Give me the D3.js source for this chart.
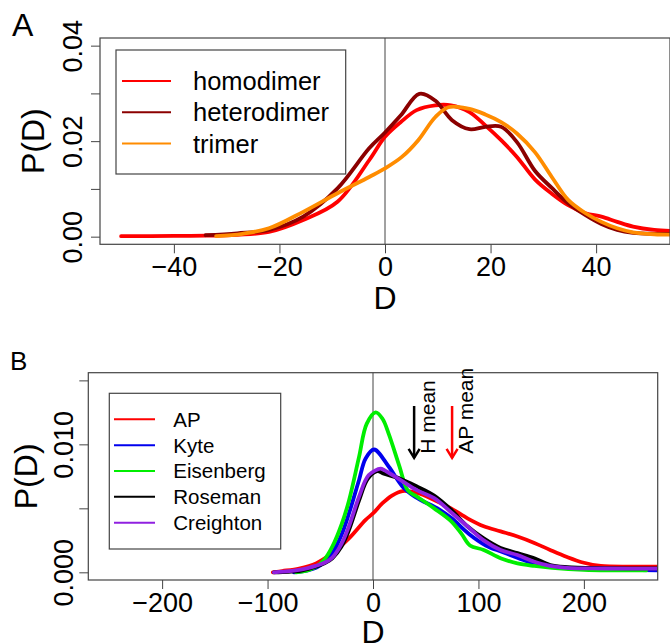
<!DOCTYPE html>
<html>
<head>
<meta charset="utf-8">
<script src="https://cdn.jsdelivr.net/npm/d3@7"></script>
<style>
  body { margin: 0; background: #fff; }
  svg { font-family: "Liberation Sans", Arial, Helvetica, sans-serif; }
</style>
</head>
<body>
<svg id="chart" width="670" height="644"></svg>
<script>
// ---- panel A data (density values in units of 1e-3) ----
const aSeries = ["homodimer", "heterodimer", "trimer"];
const aColors = ["#ff0000", "#8b0000", "#ff8c00"];
const homoD = [-50, -40, -34, -28, -22, -15.5, -9, -3, 0, 3, 6, 9.5, 12.5, 16, 19, 22, 25, 28.4, 31.6, 34.7, 38, 41, 44, 47, 51, 56];
const homoP = [0.1, 0.15, 0.2, 0.4, 1.0, 3.5, 7.3, 16, 20.9, 24, 26.5, 27.5, 27.5, 26.1, 23.3, 20.2, 16.7, 12, 9, 6.6, 4.9, 4.2, 3.1, 2.1, 1.4, 1.1];
const heteroD = [-34, -28, -22, -15.5, -9, -3, 0, 3, 6.5, 9.5, 12.7, 16, 19, 22, 25, 28.4, 31.6, 34.7, 38, 41, 44, 47, 51, 56];
const heteroP = [0.3, 0.7, 1.4, 4.2, 10.1, 18.5, 21.8, 25.4, 29.9, 28.5, 24.4, 22.5, 23, 23, 19.8, 13.8, 10.2, 7, 4.5, 2.65, 1.4, 0.8, 0.6, 0.6];
const trimerD = [-32, -27, -22, -15.5, -9, -3, 0, 3.2, 6.3, 9.5, 12, 15.8, 19, 22, 25, 28.4, 31.6, 34.7, 38, 41, 44, 47, 51, 56];
const trimerP = [0.1, 0.6, 1.75, 5.2, 9.1, 12.5, 14.3, 16.7, 20.2, 25, 27.1, 26.8, 25.6, 24, 21.6, 17.7, 12.5, 7.7, 4.9, 3.1, 1.75, 0.9, 0.5, 0.4];
const aXTicks = [-40, -20, 0, 20, 40];
const aYTicks = [0, 0.01, 0.02, 0.03, 0.04];
const aYLabels = {0: "0.00", 0.02: "0.02", 0.04: "0.04"};

// ---- panel B data (density values in units of 1e-3) ----
const bSeries = ["AP", "Kyte", "Eisenberg", "Roseman", "Creighton"];
const bColors = ["#ff0000", "#0000ee", "#00ee00", "#000000", "#9020e0"];
const apD = [-95, -86, -70, -54, -38.6, -22.8, -7, 0, 9, 18, 28, 42, 58, 74, 90, 105, 121, 137, 153, 168, 184, 200, 216, 248, 275];
const apP = [0, 0.1, 0.3, 0.7, 1.5, 2.65, 4.1, 4.6, 5.4, 6.0, 6.35, 6.2, 5.65, 5.0, 4.2, 3.6, 3.2, 2.8, 2.3, 1.75, 1.2, 0.75, 0.5, 0.45, 0.45];
const kyteD = [-75, -62, -54, -46, -38.6, -30, -22.8, -13.3, -7, 1, 15, 28, 40, 63, 75, 91, 107, 122, 138, 154, 170, 200, 240, 275];
const kyteP = [0, 0.15, 0.35, 0.8, 1.5, 2.9, 4.6, 7.2, 8.9, 9.6, 8.25, 6.7, 5.9, 4.9, 4.2, 3.0, 2.1, 1.6, 1.1, 0.65, 0.44, 0.3, 0.2, 0.15];
const eisD = [-73, -62, -54, -46, -38.6, -30, -22.8, -13.3, -6, 2.5, 9, 15, 25, 33, 42, 58, 74, 84, 92, 105, 121, 137, 153, 170, 200, 259];
const eisP = [0, 0.15, 0.44, 1.0, 2.0, 3.7, 5.6, 9.0, 11.6, 12.5, 12.0, 10.8, 8.3, 6.4, 5.9, 5.0, 4.0, 3.0, 2.1, 1.75, 1.1, 0.7, 0.5, 0.35, 0.2, 0.15];
const roseD = [-94, -80, -70, -62, -54.4, -46, -38.6, -30, -22.8, -13.3, -5, 4, 10.4, 26.3, 42, 58, 74, 89.5, 105, 121, 137, 153, 168, 184, 220, 275];
const roseP = [0, 0.04, 0.1, 0.25, 0.44, 0.7, 1.1, 2.0, 3.3, 5.6, 7.3, 7.9, 7.7, 7.3, 6.7, 6.0, 4.9, 3.6, 2.65, 1.9, 1.5, 1.1, 0.57, 0.4, 0.33, 0.3];
const creiD = [-94, -85, -70, -62, -54.4, -46, -38.6, -30, -22.8, -13.3, -4, 7.3, 10.4, 26.3, 42, 58, 74, 89.5, 105, 121, 137, 153, 168, 184, 220, 275];
const creiP = [0, 0.05, 0.2, 0.33, 0.5, 0.75, 1.15, 2.2, 3.6, 5.9, 7.6, 8.1, 8.0, 7.2, 6.4, 5.8, 4.7, 3.6, 2.5, 1.75, 1.35, 0.83, 0.5, 0.35, 0.3, 0.28];
const bXTicks = [-200, -100, 0, 100, 200];
const bYTicks = [0, 0.005, 0.010, 0.015];
const bYLabels = {0: "0.000", 0.01: "0.010"};
// mean markers (D position) for panel B
const meanLabels = ["H mean", "AP mean"];
const meanD = [39, 75];
const meanColors = ["#000000", "#ff0000"];

const svg = d3.select("#chart");
svg.append("rect").attr("width", 670).attr("height", 644).attr("fill", "#fff");

const toPts = (xs, ys) => xs.map((d, i) => [d, ys[i] / 1000]);

// draws one R-style density panel
function panel(cfg) {
  const x = d3.scaleLinear().domain(cfg.xDomain).range([cfg.left, cfg.right]);
  const y = d3.scaleLinear().domain(cfg.yDomain).range([cfg.bottom, cfg.top]);
  const g = svg.append("g");

  const clipId = "clip-" + cfg.name;
  g.append("clipPath").attr("id", clipId)
    .append("rect")
    .attr("x", cfg.left).attr("y", cfg.top)
    .attr("width", cfg.right - cfg.left).attr("height", cfg.bottom - cfg.top);

  // x axis
  const xAxis = g.append("g")
    .attr("transform", `translate(0,${cfg.bottom})`)
    .call(d3.axisBottom(x).tickValues(cfg.xTicks).tickSize(9).tickPadding(4)
      .tickFormat(d => d < 0 ? "\u2212" + Math.abs(d) : d));
  xAxis.select(".domain").remove();
  xAxis.selectAll("line").attr("stroke", "#444");
  xAxis.selectAll("text")
    .attr("font-size", cfg.tickFont).attr("fill", "#000")
    .attr("y", cfg.xLabelY - cfg.bottom).attr("dy", 0);

  // y axis, labels rotated like R's default
  const yAxis = g.append("g")
    .attr("transform", `translate(${cfg.left},0)`)
    .call(d3.axisLeft(y).tickValues(cfg.yTicks).tickSize(9)
      .tickFormat(d => cfg.yLabels[+d.toFixed(4)] || ""));
  yAxis.select(".domain").remove();
  yAxis.selectAll("line").attr("stroke", "#444");
  yAxis.selectAll("text")
    .attr("font-size", cfg.tickFont).attr("fill", "#000")
    .attr("x", null).attr("dy", null)
    .attr("text-anchor", "middle")
    .attr("transform", `translate(${cfg.yLabelX - cfg.left},0) rotate(-90)`);

  // zero line
  g.append("line")
    .attr("x1", x(0)).attr("x2", x(0))
    .attr("y1", cfg.top).attr("y2", cfg.bottom)
    .attr("stroke", "#444").attr("stroke-width", 1);

  // curves
  const line = d3.line()
    .x(d => x(d[0])).y(d => y(d[1]))
    .curve(d3.curveCatmullRom.alpha(0.5));
  const cg = g.append("g").attr("clip-path", `url(#${clipId})`);
  cfg.curves.forEach((pts, i) => {
    cg.append("path")
      .attr("d", line(pts))
      .attr("fill", "none")
      .attr("stroke", cfg.colors[i])
      .attr("stroke-width", 3.8)
      .attr("stroke-linejoin", "round")
      .attr("stroke-linecap", "round");
  });

  // box
  g.append("rect")
    .attr("x", cfg.left).attr("y", cfg.top)
    .attr("width", cfg.right - cfg.left).attr("height", cfg.bottom - cfg.top)
    .attr("fill", "none").attr("stroke", "#444").attr("stroke-width", 1.2);

  // legend
  const L = cfg.legend;
  g.append("rect")
    .attr("x", L.x).attr("y", L.y).attr("width", L.w).attr("height", L.h)
    .attr("fill", "#fff").attr("stroke", "#444").attr("stroke-width", 1.2);
  cfg.series.forEach((s, i) => {
    const ly = L.firstY + i * L.step;
    g.append("line")
      .attr("x1", L.lineX1).attr("x2", L.lineX2).attr("y1", ly).attr("y2", ly)
      .attr("stroke", cfg.colors[i]).attr("stroke-width", 2);
    g.append("text")
      .attr("x", L.textX).attr("y", ly).attr("dy", "0.36em")
      .attr("font-size", L.font).text(s);
  });

  // axis titles and panel letter
  g.append("text")
    .attr("x", x(0))
    .attr("y", cfg.titleY).attr("text-anchor", "middle")
    .attr("font-size", 32).text("D");
  g.append("text")
    .attr("transform", `translate(${cfg.yTitleX},${(cfg.top + cfg.bottom) / 2}) rotate(-90)`)
    .attr("text-anchor", "middle").attr("font-size", 32).text("P(D)");
  g.append("text")
    .attr("x", cfg.letterX).attr("y", cfg.letterY)
    .attr("font-size", cfg.letterFont).text(cfg.name);

  return {x, y, g};
}

panel({
  name: "A",
  xDomain: [-54, 54], yDomain: [-0.0016, 0.0416],
  left: 100, right: 670, top: 38, bottom: 244.3,
  xTicks: aXTicks, yTicks: aYTicks, yLabels: aYLabels,
  tickFont: 27, xLabelY: 276, yLabelX: 81.5,
  titleY: 309, yTitleX: 44,
  letterX: 12, letterY: 36, letterFont: 32,
  series: aSeries, colors: aColors,
  curves: [toPts(homoD, homoP), toPts(heteroD, heteroP), toPts(trimerD, trimerP)],
  legend: {x: 116, y: 50, w: 229.7, h: 124, lineX1: 122, lineX2: 171,
           firstY: 81, step: 31.2, textX: 193, font: 25.5}
});

const B = panel({
  name: "B",
  xDomain: [-270, 270], yDomain: [-0.0006, 0.0156],
  left: 88.3, right: 657.7, top: 372.7, bottom: 580,
  xTicks: bXTicks, yTicks: bYTicks, yLabels: bYLabels,
  tickFont: 27, xLabelY: 611.7, yLabelX: 72.5,
  titleY: 643, yTitleX: 37,
  letterX: 10, letterY: 370, letterFont: 26,
  series: bSeries, colors: bColors,
  curves: [toPts(apD, apP), toPts(kyteD, kyteP), toPts(eisD, eisP),
           toPts(roseD, roseP), toPts(creiD, creiP)],
  legend: {x: 109.3, y: 393.3, w: 171.4, h: 155.7, lineX1: 114, lineX2: 155,
           firstY: 419.3, step: 25.85, textX: 173.3, font: 20.5}
});

// mean arrows with rotated labels
meanLabels.forEach((lab, i) => {
  const ax = B.x(meanD[i]);
  const top = B.y(0.0130), tip = B.y(0.00895);
  B.g.append("line")
    .attr("x1", ax).attr("x2", ax).attr("y1", top).attr("y2", tip)
    .attr("stroke", meanColors[i]).attr("stroke-width", 2.5);
  B.g.append("path")
    .attr("d", `M${ax - 5.5},${tip - 9}L${ax},${tip}L${ax + 5.5},${tip - 9}`)
    .attr("fill", "none").attr("stroke", meanColors[i]).attr("stroke-width", 2.5);
  B.g.append("text")
    .attr("transform", `translate(${ax + 20.5},${tip - 4}) rotate(-90)`)
    .attr("font-size", 21).attr("fill", "#000").text(lab);
});
</script>
</body>
</html>
